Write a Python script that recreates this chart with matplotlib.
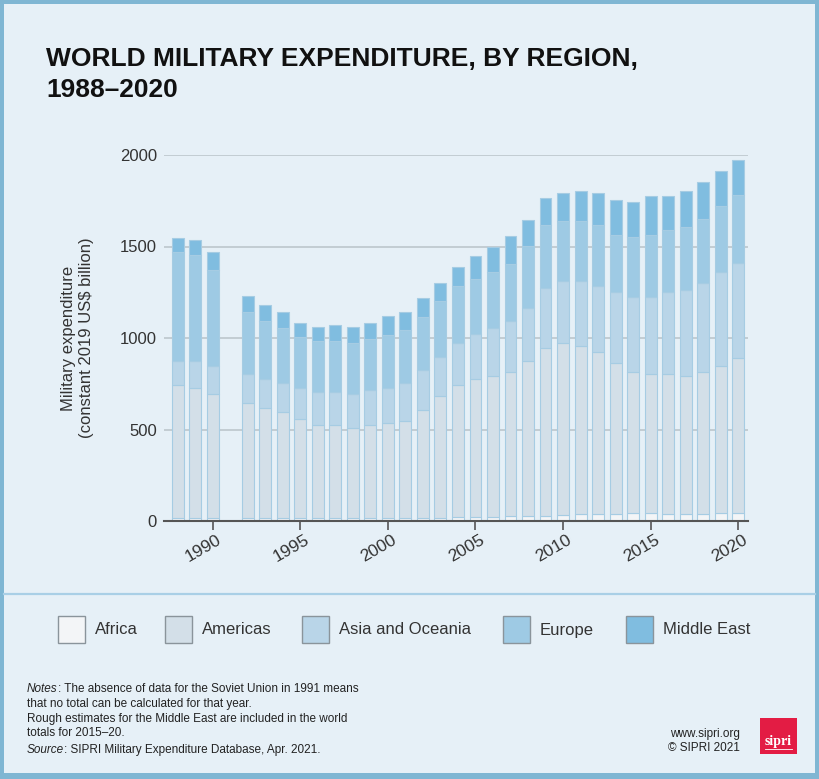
import numpy as np
import matplotlib
matplotlib.use("Agg")
import matplotlib.pyplot as plt
from matplotlib.patches import Rectangle
from matplotlib.lines import Line2D
from matplotlib.transforms import ScaledTranslation

# --- data (US$ bn, constant 2019), no world total for 1991 ---
years = [1988, 1989, 1990, 1992, 1993, 1994, 1995, 1996, 1997, 1998, 1999,
         2000, 2001, 2002, 2003, 2004, 2005, 2006, 2007, 2008, 2009, 2010,
         2011, 2012, 2013, 2014, 2015, 2016, 2017, 2018, 2019, 2020]
africa = [17, 16, 16, 15, 15, 15, 14, 14, 14, 15, 16,
          17, 17, 18, 19, 20, 21, 23, 25, 28, 30, 31,
          36, 37, 40, 42, 41, 40, 39, 40, 41, 43]
americas = [725, 713, 677, 630, 605, 581, 546, 509, 509, 495, 507,
            519, 530, 591, 663, 722, 757, 767, 790, 849, 917, 941,
            923, 888, 824, 773, 761, 762, 751, 775, 807, 845]
asia_oceania = [133, 146, 155, 157, 157, 157, 169, 183, 183, 183, 194,
                193, 206, 217, 215, 230, 245, 266, 278, 289, 328, 341,
                354, 361, 389, 411, 424, 451, 474, 486, 515, 522]
europe = [594, 581, 526, 340, 316, 303, 276, 279, 279, 277, 277,
          290, 290, 290, 305, 314, 301, 305, 314, 337, 340, 325,
          325, 329, 312, 328, 339, 338, 340, 352, 361, 374]
middle_east = [76, 78, 98, 87, 87, 88, 78, 75, 88, 90, 89,
               101, 101, 101, 100, 102, 123, 137, 151, 141, 149, 152,
               163, 175, 188, 187, 212, 186, 197, 197, 186, 189]

region_names = ["Africa", "Americas", "Asia and Oceania", "Europe", "Middle East"]
region_values = [africa, americas, asia_oceania, europe, middle_east]
colors = ["#f3f5f7", "#d3dfe8", "#b9d5e8", "#9ecae4", "#80bde0"]

y_ticks = [0, 500, 1000, 1500, 2000]
x_ticks = [1990, 1995, 2000, 2005, 2010, 2015, 2020]

FONT = "Liberation Sans"
W, H = 820, 779


def fx(x):
    return x / W


def fy(y):
    return 1 - y / H


fig = plt.figure(figsize=(W / 100, H / 100), dpi=100, facecolor="#7fb6d3")
fig.add_artist(Rectangle((fx(4), fy(773)), (815 - 4) / W, (773 - 4) / H,
                         transform=fig.transFigure, facecolor="#e6f0f7",
                         edgecolor="none", zorder=-10))
fig.add_artist(Line2D([fx(4), fx(815)], [fy(594), fy(594)],
                      transform=fig.transFigure, color="#a9cfe6", lw=1.6))

# --- bars ---
ax = fig.add_axes([fx(164), fy(521), (747.7 - 164) / W, (521 - 155) / H])
ax.set_facecolor("none")
bottom = np.zeros(len(years))
for vals, c in zip(region_values, colors):
    ax.bar(years, vals, bottom=bottom, width=0.68, color=c,
           edgecolor="#a6cce3", linewidth=0.8, zorder=3)
    bottom += np.array(vals)

ax.set_xlim(1987.22, 2020.54)
ax.set_ylim(0, 2000)
ax.set_yticks(y_ticks)
ax.set_yticklabels([str(v) for v in y_ticks], fontsize=12, color="#333333",
                   family=FONT)
ax.yaxis.grid(True, color="#bcc6cc", lw=1.2, zorder=0)
ax.set_axisbelow(True)
ax.tick_params(axis="y", length=0, pad=5)
for s in ("top", "right", "left"):
    ax.spines[s].set_visible(False)
ax.spines["bottom"].set_color("#555555")
ax.spines["bottom"].set_linewidth(1.5)
ax.spines["bottom"].set_zorder(5)

ax.set_xticks(x_ticks)
ax.set_xticklabels([str(v) for v in x_ticks], fontsize=12.5, color="#333333",
                   family=FONT)
ax.tick_params(axis="x", length=6.5, width=1.2, color="#555555", pad=9,
               direction="out")
shift = ScaledTranslation(10 / 100, 0, fig.dpi_scale_trans)
for lbl in ax.get_xticklabels():
    lbl.set_rotation(30)
    lbl.set_ha("right")
    lbl.set_va("baseline")
    lbl.set_rotation_mode("anchor")
    lbl.set_transform(lbl.get_transform() + shift)

fig.text(fx(78), fy(338), "Military expenditure\n(constant 2019 US$ billion)",
         rotation=90, ha="center", va="center", fontsize=12, color="#333333",
         family=FONT, linespacing=1.25)

# --- title ---
title_kw = dict(fontsize=19, weight="bold", color="#111111", family=FONT)
fig.text(fx(46), fy(66), "WORLD MILITARY EXPENDITURE, BY REGION,",
         va="baseline", **title_kw)
fig.text(fx(46), fy(97), "1988\u20132020", va="baseline", **title_kw)

# --- legend ---
box_x = [58, 165, 302, 503, 626]
for bx, name, c in zip(box_x, region_names, colors):
    fig.add_artist(Rectangle((fx(bx), fy(643)), 27 / W, 27 / H,
                             transform=fig.transFigure, facecolor=c,
                             edgecolor="#8a949b", lw=1))
    fig.text(fx(bx + 37), fy(630), name, va="center", ha="left",
             fontsize=12, color="#333333", family=FONT)

# --- notes ---
renderer = fig.canvas.get_renderer()
note_kw = dict(fontsize=8.5, color="#222222", family=FONT, va="baseline")


def mixed(x, y, italic, rest):
    t = fig.text(fx(x), fy(y), italic, style="italic", **note_kw)
    x_end = t.get_window_extent(renderer).x1
    fig.text(x_end / W, fy(y), rest, **note_kw)


mixed(27, 692, "Notes", ": The absence of data for the Soviet Union in 1991 means")
fig.text(fx(27), fy(707), "that no total can be calculated for that year.", **note_kw)
fig.text(fx(27), fy(722), "Rough estimates for the Middle East are included in the world",
         **note_kw)
fig.text(fx(27), fy(736), "totals for 2015\u201320.", **note_kw)
mixed(27, 753, "Source", ": SIPRI Military Expenditure Database, Apr. 2021.")

fig.text(fx(740), fy(737), "www.sipri.org", ha="right", **note_kw)
fig.text(fx(740), fy(751), "\u00a9 SIPRI 2021", ha="right", **note_kw)

# sipri logo
fig.add_artist(Rectangle((fx(760), fy(754)), 37 / W, 36 / H,
                         transform=fig.transFigure, facecolor="#e31c44",
                         edgecolor="none"))
fig.text(fx(778.5), fy(745), "sipri", ha="center", va="baseline", fontsize=10,
         weight="bold", color="white", family="Liberation Serif")
fig.add_artist(Line2D([fx(765), fx(792)], [fy(748.5), fy(748.5)],
                      transform=fig.transFigure, color="white", lw=0.6))

fig.savefig("out.png", dpi=100, facecolor=fig.get_facecolor())
